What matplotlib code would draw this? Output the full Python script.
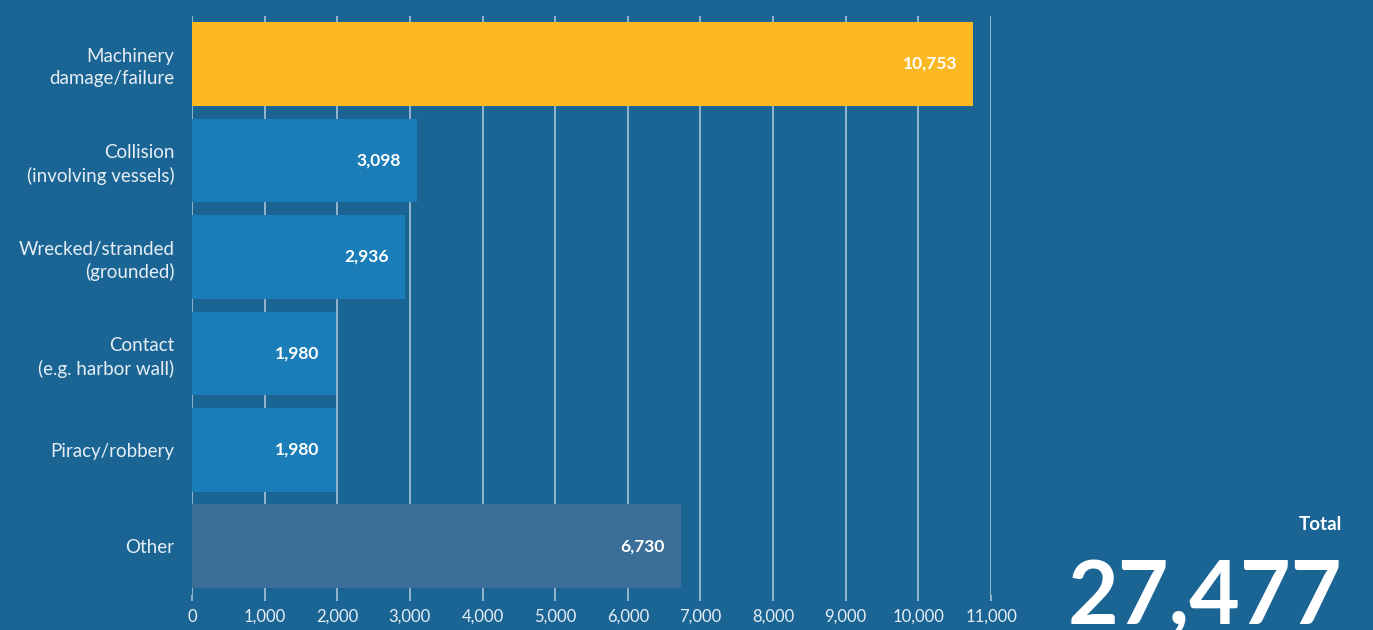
import matplotlib.pyplot as plt
from matplotlib.transforms import offset_copy

categories = ["Machinery\ndamage/failure", "Collision\n(involving vessels)",
              "Wrecked/stranded\n(grounded)", "Contact\n(e.g. harbor wall)",
              "Piracy/robbery", "Other"]
values = [10753, 3098, 2936, 1980, 1980, 6730]
colors = ["#FBB823", "#1A7DB8", "#1A7DB8", "#1A7DB8", "#1A7DB8", "#3B6F9A"]
ticks = list(range(0, 12000, 1000))
total = 27477

bg = "#1B6595"
plt.rcParams['font.family'] = ['Lato', 'DejaVu Sans']

fig = plt.figure(figsize=(13.73, 6.3), dpi=100, facecolor=bg)
ax = fig.add_axes([0.1398, 0.056, 0.7218 - 0.1398, 0.919])
ax.set_facecolor(bg)

y = list(range(len(categories)))
ax.barh(y, values, height=0.87, color=colors, zorder=3)
ax.set_ylim(len(categories) - 0.5, -0.5)
ax.set_xlim(0, 11000)

ax.set_xticks(ticks)
ax.set_xticklabels([f"{t:,}" for t in ticks], color="#E6EEF5", fontsize=12)
ax.grid(axis="x", color="#9DBBD3", linewidth=1.3, zorder=1)
ax.tick_params(axis="x", length=4, color="#9DBBD3", width=1.3, pad=6)
ax.set_yticks(y)
ax.set_yticklabels(categories, color="#E6EEF5", fontsize=13.5, linespacing=1.35)
ax.tick_params(axis="y", length=0, pad=12.5)
for s in ax.spines.values():
    s.set_visible(False)

for yi, v in zip(y, values):
    tr = offset_copy(ax.transData, fig=fig, x=-16, y=0, units="dots")
    ax.text(v, yi, f"{v:,}", transform=tr, ha="right", va="center",
            color="white", fontsize=12.5, fontweight="bold", zorder=4)

fig.text(1342 / 1373, 1 - 525 / 630, "Total", ha="right", va="center",
         color="white", fontsize=13.5, fontweight="bold")
fig.text(1342 / 1373, 1 - 624 / 630, f"{total:,}", ha="right", va="baseline",
         color="white", fontsize=63, fontweight="bold")

fig.savefig("out.png", dpi=100, facecolor=bg)
